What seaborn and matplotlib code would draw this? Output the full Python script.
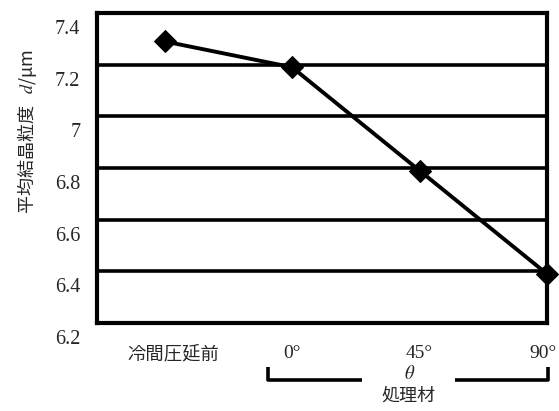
import matplotlib
matplotlib.use("Agg")
import matplotlib.pyplot as plt
from matplotlib.lines import Line2D
from matplotlib.transforms import ScaledTranslation
import seaborn as sns
import pandas as pd

# Average grain size before cold rolling and after treatment at each angle
categories = ["冷間圧延前", "0°", "45°", "90°"]
grain_size = [7.29, 7.19, 6.79, 6.39]
y_ticks = [6.2, 6.4, 6.6, 6.8, 7.0, 7.2, 7.4]
y_tick_labels = ["6.2", "6.4", "6.6", "6.8", "7", "7.2", "7.4"]

sns.set_theme(style="white")
plt.rcParams["font.family"] = ["Liberation Serif", "Noto Sans CJK JP", "DejaVu Sans"]
plt.rcParams["mathtext.fontset"] = "stix"

df = pd.DataFrame({"pos": range(len(categories)), "d": grain_size})

fig = plt.figure(figsize=(5.59, 4.11), dpi=100)
ax = fig.add_axes([97 / 559, 1 - 323 / 411, 450 / 559, 310 / 411])

# horizontal grid lines drawn heavy, under the data line
for yv in y_ticks[1:-1]:
    ax.axhline(yv, color="black", lw=2.6, zorder=1)

sns.lineplot(data=df, x="pos", y="d", color="black", lw=2.8,
             marker="D", markersize=11, markeredgecolor="black",
             markerfacecolor="black", ax=ax, zorder=3, clip_on=False)

ax.set_xlim(-0.53, 3.0)
ax.set_ylim(6.2, 7.4)
ax.set_xlabel("")
ax.set_ylabel("")

for sp in ax.spines.values():
    sp.set_visible(True)
    sp.set_color("black")
    sp.set_linewidth(3)

ax.set_yticks(y_ticks)
ax.set_yticklabels(y_tick_labels, fontsize=14.5)
ax.tick_params(axis="y", length=0, pad=12)
offset = ScaledTranslation(0, -14 / 100, fig.dpi_scale_trans)
for lab in ax.get_yticklabels():
    lab.set_transform(lab.get_transform() + offset)

ax.set_xticks(range(len(categories)))
ax.set_xticklabels(categories, fontsize=14)
ax.tick_params(axis="x", direction="in", length=4, width=2.5, pad=16,
               color="black")
for lab in ax.get_xticklabels():
    txt = lab.get_text()
    if txt == "冷間圧延前":
        lab.set_fontfamily(["Noto Sans CJK JP"])
        lab.set_fontsize(13.2)
        lab.set_transform(lab.get_transform()
                          + ScaledTranslation(9 / 100, 0, fig.dpi_scale_trans))
    elif txt == "90°":
        lab.set_transform(lab.get_transform()
                          + ScaledTranslation(-4 / 100, 0, fig.dpi_scale_trans))

# vertical axis title
fig.text(27 / 559, 1 - 131 / 411, "平均結晶粒度   $d$/μm", rotation=90,
         ha="center", va="center", fontsize=13,
         family=["Noto Sans CJK JP", "DejaVu Sans"])

# bracket grouping the treated specimens
def fx(px):
    return px / 559

def fy(py):
    return 1 - py / 411

bracket_kw = dict(color="black", lw=2.6, solid_capstyle="butt")
fig.add_artist(Line2D([fx(268), fx(268), fx(362)], [fy(367), fy(380), fy(380)], **bracket_kw))
fig.add_artist(Line2D([fx(455), fx(548), fx(548)], [fy(380), fy(380), fy(367)], **bracket_kw))
fig.text(fx(410), fy(374), r"$\theta$", ha="center", va="center", fontsize=13.5)
fig.text(fx(408), fy(396), "処理材", ha="center", va="center", fontsize=13,
         family=["Noto Sans CJK JP"])

fig.savefig("out.png", dpi=100, facecolor="white")
